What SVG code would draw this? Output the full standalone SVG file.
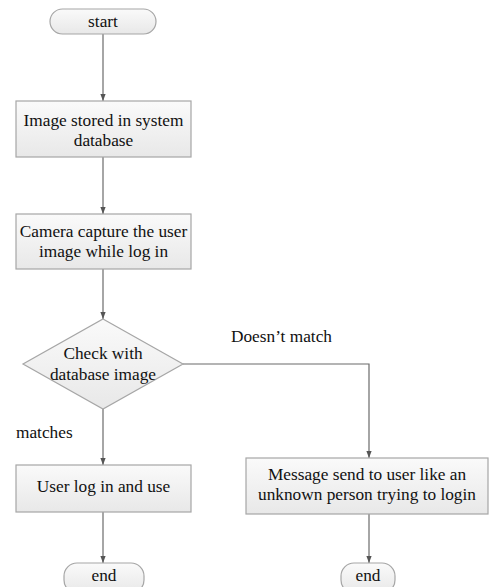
<svg xmlns="http://www.w3.org/2000/svg" width="489" height="587" viewBox="0 0 489 587">
<style>
.shape{fill:url(#g);stroke:#a6a6a6;stroke-width:1.2}
.t{font-family:"Liberation Serif","Times New Roman",serif;font-size:17.3px;fill:#111;text-anchor:middle}
.l{font-family:"Liberation Serif","Times New Roman",serif;font-size:17.3px;fill:#111}
.c{fill:none;stroke:#6b6b6b;stroke-width:1.2}
</style>
<defs>
<linearGradient id="g" x1="0" y1="0" x2="0" y2="1">
<stop offset="0" stop-color="#fafafa"/>
<stop offset="1" stop-color="#e8e8e8"/>
</linearGradient>
<marker id="a" viewBox="0 0 8 8" refX="8" refY="4" markerWidth="7" markerHeight="7" markerUnits="userSpaceOnUse" orient="auto">
<path d="M0,1 L8,4 L0,7 z" fill="#555"/>
</marker>
</defs>
<rect width="489" height="587" fill="#fff"/>
<g id="connectors">
<line class="c" x1="103" y1="34" x2="103" y2="101" marker-end="url(#a)"/>
<line class="c" x1="103" y1="157" x2="103" y2="214" marker-end="url(#a)"/>
<line class="c" x1="103" y1="269" x2="103" y2="319" marker-end="url(#a)"/>
<line class="c" x1="103" y1="409" x2="103" y2="465" marker-end="url(#a)"/>
<polyline class="c" points="183,364 369,364 369,458" marker-end="url(#a)"/>
<line class="c" x1="103" y1="512" x2="103" y2="563" marker-end="url(#a)"/>
<line class="c" x1="369" y1="514" x2="369" y2="563" marker-end="url(#a)"/>
<text class="l" x="231" y="342">Doesn’t match</text>
<text class="l" x="16" y="438">matches</text>
</g>
<g id="start">
<rect class="shape" x="50" y="9" width="106" height="25" rx="12.5"/>
<text class="t" x="103" y="27">start</text>
</g>
<g id="stored">
<rect class="shape" x="16" y="101" width="175" height="56"/>
<text class="t" x="103.5" y="126">Image stored in system</text>
<text class="t" x="103.5" y="146">database</text>
</g>
<g id="capture">
<rect class="shape" x="16" y="214" width="175" height="55"/>
<text class="t" x="103.5" y="237">Camera capture the user</text>
<text class="t" x="103.5" y="257">image while log in</text>
</g>
<g id="check">
<polygon class="shape" points="103,319 183,364 103,409 23,364"/>
<text class="t" x="103" y="359">Check with</text>
<text class="t" x="103" y="380">database image</text>
</g>
<g id="login">
<rect class="shape" x="16" y="465" width="175" height="47"/>
<text class="t" x="103.5" y="492">User log in and use</text>
</g>
<g id="message">
<rect class="shape" x="246" y="458" width="242" height="56"/>
<text class="t" x="367" y="480">Message send to user like an</text>
<text class="t" x="367" y="500">unknown person trying to login</text>
</g>
<g id="end1">
<rect class="shape" x="64" y="563" width="80" height="30" rx="13"/>
<text class="t" x="104" y="581">end</text>
</g>
<g id="end2">
<rect class="shape" x="341" y="563" width="54" height="30" rx="13"/>
<text class="t" x="368" y="581">end</text>
</g>
</svg>
